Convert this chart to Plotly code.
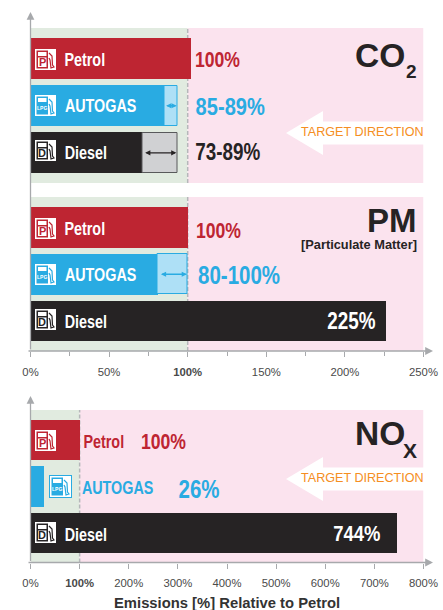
import plotly.graph_objects as go

W, H = 443, 610
FUELS = ["Petrol", "AUTOGAS", "Diesel"]
RED, BLUE, DARK = "#BE2532", "#29ABE2", "#262324"
COLORS = [RED, BLUE, DARK]
GREEN_BG, PINK_BG = "#E1EBE0", "#FBE3EE"
LIGHT_BLUE, LIGHT_GREY = "#AEE0F6", "#D0D1D3"
AXIS = "#A7A9AC"
ORANGE = "#F58E22"
CLEAR = "rgba(0,0,0,0)"
# no narrow face is installed: this family string marks text that the page squeezes horizontally
NARROW = "Liberation Sans, Arial Narrow, sans-serif"
SANS = "Liberation Sans, Arial, sans-serif"

# bar lengths as drawn (solid part, then the light range part)
co2_solid = [101.5, 85, 71]
co2_range = [0, 8.5, 22.5]
pm_solid = [100, 81, 226]
pm_range = [0, 19, 0]
nox_solid = [100.7, 27, 744.5]
nox_range = [0, 0, 0]

ticks_250 = [0, 50, 100, 150, 200, 250]
ticks_250_minor = [25, 75, 125, 175, 225]
ticks_800 = [0, 100, 200, 300, 400, 500, 600, 700, 800]


def px(x):
    return x / W


def py(y):
    return 1 - y / H


fig = go.Figure()
shapes, notes = [], []

panels = [
    ("x", "y", co2_solid, co2_range, 250),
    ("x2", "y2", pm_solid, pm_range, 250),
    ("x3", "y3", nox_solid, nox_range, 800),
]
range_cols = [CLEAR, LIGHT_BLUE, LIGHT_GREY]
range_lines = [CLEAR, BLUE, "#58595B"]

for xa, ya, solid, rng, xmax in panels:
    fig.add_trace(go.Bar(y=FUELS, x=solid, orientation="h", xaxis=xa, yaxis=ya,
                         marker=dict(color=COLORS, line_width=0), width=0.87,
                         showlegend=False, hoverinfo="skip"))
    if any(rng):
        fig.add_trace(go.Bar(y=FUELS, x=rng, base=solid, orientation="h", xaxis=xa, yaxis=ya,
                             marker=dict(color=[c if r else CLEAR for c, r in zip(range_cols, rng)],
                                         line=dict(color=[c if r else CLEAR for c, r in zip(range_lines, rng)], width=1)),
                             width=0.85, showlegend=False, hoverinfo="skip"))
    yd = dict(xref=xa, yref=f"{ya} domain", y0=0, y1=1, layer="below", line_width=0, type="rect")
    shapes.append(dict(x0=0, x1=100, fillcolor=GREEN_BG, **yd))
    shapes.append(dict(x0=100, x1=xmax, fillcolor=PINK_BG, **yd))
    shapes.append(dict(type="line", xref=xa, yref=f"{ya} domain", x0=100, x1=100, y0=0, y1=1,
                       line=dict(color="#B5B7BA", width=1.5, dash="4px,2px"), layer="below"))


def text(x, y, s, size, color, font=SANS, anchor="left", height=None):
    notes.append(dict(xref="paper", yref="paper", x=px(x), y=py(y), text=s, showarrow=False,
                      xanchor=anchor, yanchor="middle", height=height,
                      font=dict(size=size, color=color, family=font)))


def narrow(cx, y, s, size, color):
    text(cx, y, f"<b>{s}</b>", size, color, NARROW, "center")


def rect(x0, y0, x1, y1, fill):
    shapes.append(dict(type="rect", xref="paper", yref="paper", x0=px(x0), x1=px(x1), y0=py(y0), y1=py(y1),
                       fillcolor=fill, line_width=0, layer="above"))


def icon(x, y, letter, col, outlined=False):
    if outlined:
        rect(x - 1, y - 1, x + 22, y + 22, col)
    rect(x, y, x + 21, y + 21, "white")
    rect(x + 1.5, y + 1.5, x + 13, y + 19.5, col)
    rect(x + 3, y + 3, x + 11.5, y + 7, "white")
    if letter == "LPG":
        text(x + 7.2, y + 13, "<b>LPG</b>", 5, "white", SANS, "center")
    else:
        rect(x + 3, y + 8.5, x + 11.5, y + 18, "white")
        text(x + 7.2, y + 13.3, f"<b>{letter}</b>", 11, col, SANS, "center")
    hose = f"M {px(x+14)} {py(y+4)} L {px(x+17)} {py(y+7)} L {px(x+17.5)} {py(y+16)} " \
           f"L {px(x+19)} {py(y+18)} L {px(x+16)} {py(y+19)} L {px(x+15)} {py(y+11)} L {px(x+14)} {py(y+9)}"
    shapes.append(dict(type="path", xref="paper", yref="paper", path=hose, line=dict(color=col, width=1.2),
                       layer="above"))


for y0 in (49, 218):
    icon(35, y0, "P", RED)
    icon(35, y0 + 46, "LPG", BLUE)
    icon(35, y0 + 91, "D", DARK)
icon(35, 430, "P", RED)
icon(50, 476, "LPG", BLUE, outlined=True)
icon(35, 522, "D", DARK)

for y0 in (59.5, 229):
    narrow(84.5, y0, "Petrol", 17.5, "white")
    narrow(100.5, y0 + 46.5, "AUTOGAS", 17.5, "white")
    narrow(85.5, y0 + 93, "Diesel", 17.5, "white")
narrow(103.5, 442, "Petrol", 17.5, RED)
narrow(117.5, 488, "AUTOGAS", 17.5, BLUE)
narrow(85.5, 535, "Diesel", 17.5, "white")

narrow(217, 60.5, "100%", 21.5, RED)
narrow(230, 106.5, "85-89%", 24.5, BLUE)
narrow(227, 151.5, "73-89%", 23, DARK)
narrow(218.5, 231.5, "100%", 21.5, RED)
narrow(239, 275, "80-100%", 25, BLUE)
narrow(351, 321, "225%", 23, "white")
narrow(163.5, 441.5, "100%", 21.5, RED)
narrow(198.5, 488.5, "26%", 25, BLUE)
narrow(356.5, 533, "744%", 22.5, "white")

text(407, 56, "<b>CO</b>", 33.5, DARK, SANS, "right")
text(419, 71, "<b>2</b>", 19, DARK, SANS, "right")
text(419, 220, "<b>PM</b>", 33, DARK, SANS, "right", height=26)
text(419, 244, "<b>[Particulate Matter]</b>", 12.8, DARK, SANS, "right", height=17)
text(407, 433, "<b>NO</b>", 33.5, DARK, SANS, "right")
text(419, 450, "<b>X</b>", 21, DARK, SANS, "right")

for cy in (133, 479):
    pts = [(286, cy), (323, cy - 22), (323, cy - 11.5), (424, cy - 11.5), (424, cy + 11.5), (323, cy + 11.5), (323, cy + 22)]
    path = "M " + " L ".join(f"{px(a)} {py(b)}" for a, b in pts) + " Z"
    shapes.append(dict(type="path", xref="paper", yref="paper", path=path, fillcolor="white", line_width=0, layer="above"))
    text(426, cy - 1, "TARGET DIRECTION", 12.6, ORANGE, SANS, "right")

for y0, y1, x0, x1 in ((351, 12, 30.5, 30.5), (562.5, 396, 30.5, 30.5), (351, 351, 27, 433), (562.5, 562.5, 27, 433)):
    notes.append(dict(xref="paper", yref="paper", axref="pixel", ayref="pixel",
                      x=px(x1), y=py(y1), ax=x0 - x1, ay=y0 - y1, text="", showarrow=True,
                      arrowhead=2, arrowsize=1.2, arrowwidth=1.3, arrowcolor=AXIS))

for xa, ya, lo, hi, cat, col in (("x", "y", 85.3, 93, "AUTOGAS", BLUE), ("x", "y", 72, 92.8, "Diesel", DARK),
                                 ("x2", "y2", 82, 99.5, "AUTOGAS", BLUE)):
    notes.append(dict(xref=xa, yref=ya, axref=xa, ayref="pixel", x=hi, y=cat, ax=lo, ay=0, text="",
                      showarrow=True, arrowhead=2, startarrowhead=2, arrowside="end+start",
                      arrowsize=0.8, startarrowsize=0.8, arrowwidth=1.3, arrowcolor=col))

text(227, 602.5, "<b>Emissions [%] Relative to Petrol</b>", 14.8, "#333333", SANS, "center")

common_y = dict(autorange=False, range=[2.64, -0.65], visible=False, categoryorder="array", categoryarray=FUELS,
                anchor="free", position=0)
x_dom = [px(30.5), px(423.5)]


def fmt(vals):
    return [f"<b>{v}%</b>" if v == 100 else f"{v}%" for v in vals]


tick_font = dict(size=11.3, color="#4A4A4A", family=SANS)
fig.update_layout(
    width=W, height=H, margin=dict(l=0, r=0, t=0, b=0, autoexpand=False), autosize=False,
    paper_bgcolor="white", plot_bgcolor="rgba(0,0,0,0)", barmode="overlay", bargap=0,
    xaxis=dict(domain=x_dom, range=[0, 250], anchor="y", visible=False),
    xaxis2=dict(domain=x_dom, range=[0, 250], anchor="y2", showgrid=False, zeroline=False, showline=False,
                tickvals=ticks_250, ticktext=fmt(ticks_250), ticks="outside", ticklen=5, tickwidth=1, tickcolor=AXIS,
                tickfont=tick_font, tickangle=0, ticklabelstandoff=5,
                minor=dict(tickvals=ticks_250_minor, ticks="outside", ticklen=4,
                           tickcolor=AXIS, tickwidth=1, showgrid=False)),
    xaxis3=dict(domain=x_dom, range=[0, 800], anchor="y3", showgrid=False, zeroline=False, showline=False,
                tickvals=ticks_800, ticktext=fmt(ticks_800), ticks="outside", ticklen=5, tickwidth=1, tickcolor=AXIS,
                tickfont=tick_font, tickangle=0, ticklabelstandoff=5),
    yaxis=dict(domain=[py(183), py(28)], **common_y),
    yaxis2=dict(domain=[py(351), py(197)], **common_y),
    yaxis3=dict(domain=[py(562.5), py(410)], **common_y),
    shapes=shapes, annotations=notes,
)

squeeze = """
document.body.style.margin='0';
function squeeze(){document.querySelectorAll('.annotation-text').forEach(function(t){
 if(t.style.fontFamily.indexOf('Arial Narrow')>=0){t.style.transformBox='fill-box';t.style.transformOrigin='center';t.style.transform='scaleX(0.82)';}
});}
squeeze();[50,200,600].forEach(function(d){setTimeout(squeeze,d);});
"""
fig.write_html("out.html", config={"displayModeBar": False}, post_script=squeeze)
